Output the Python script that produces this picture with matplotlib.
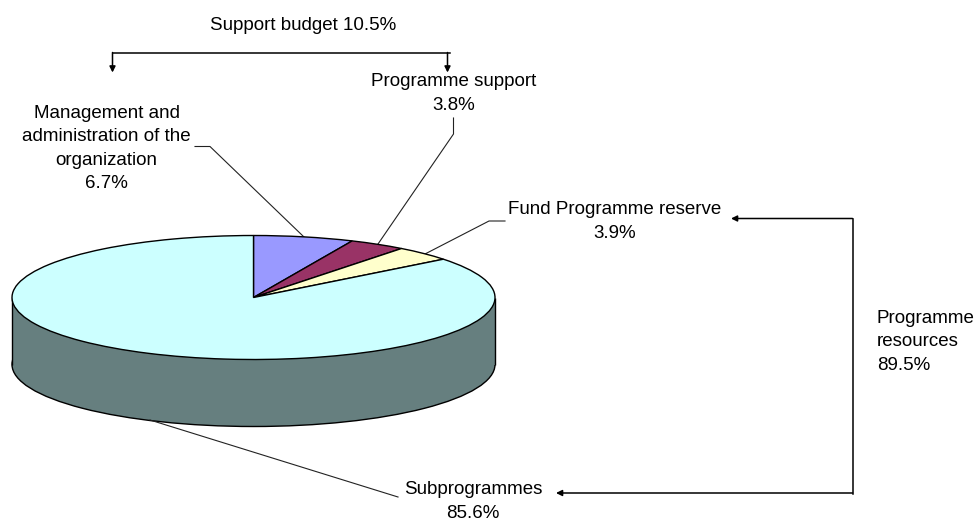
import matplotlib
matplotlib.use("Agg")
import matplotlib.pyplot as plt
from matplotlib.patches import Ellipse, Rectangle

plt.rcParams['font.family'] = ['Liberation Sans', 'DejaVu Sans']

W, H = 978, 521

# slices, clockwise from 12 o'clock
names = ["Management and\nadministration of the\norganization", "Programme support",
         "Fund Programme reserve", "Subprogrammes"]
shares = [6.7, 3.8, 3.9, 85.6]
colores = ["#9999FF", "#993366", "#FFFFCC", "#CCFFFF"]
rim_color = "#667F7F"

support_label = "Support budget 10.5%"
resources_label = "Programme\nresources\n89.5%"

# pie ellipse in pixels
cx, cy = 253.5, 297.5
rx, ry = 241.5, 62
depth = 67

fig = plt.figure(figsize=(W/100, H/100), dpi=100)

# background axes in pixel coordinates, y going down
px = fig.add_axes([0, 0, 1, 1])
px.set_xlim(0, W)
px.set_ylim(H, 0)
px.axis("off")

# side of the cylinder
px.add_patch(Ellipse((cx, cy + depth), 2*rx, 2*ry, fc=rim_color, ec="black", lw=1))
px.add_patch(Rectangle((cx - rx, cy), 2*rx, depth, fc=rim_color, ec="none"))
px.plot([cx - rx, cx - rx], [cy, cy + depth], color="black", lw=1, solid_capstyle="butt")
px.plot([cx + rx, cx + rx], [cy, cy + depth], color="black", lw=1, solid_capstyle="butt")

# top face, the pie squashed into the ellipse
ax = fig.add_axes([(cx - rx)/W, 1 - (cy + ry)/H, 2*rx/W, 2*ry/H])
ax.pie(shares, colors=colores, startangle=90, counterclock=False,
       wedgeprops={"edgecolor": "black", "linewidth": 1})
ax.set_aspect("auto")
ax.set_xlim(-1, 1)
ax.set_ylim(-1, 1)
ax.patch.set_alpha(0)

# leader lines
line = {"color": "#222222", "lw": 0.8}
px.plot([195, 210, 304], [146.5, 146.5, 237], **line)
px.plot([453.5, 453.5, 378], [118, 134, 244], **line)
px.plot([505, 489, 425], [221, 221, 254], **line)
px.plot([150, 398], [420, 497], **line)

# brackets
br = {"color": "black", "lw": 1.1}
arrow = dict(arrowstyle="-|>,head_length=0.5,head_width=0.25", color="black", lw=1.1,
             shrinkA=0, shrinkB=0, mutation_scale=7)
px.plot([112.5, 449.5], [52.5, 52.5], **br)
px.annotate("", xy=(112.5, 72.5), xytext=(112.5, 52.5), arrowprops=arrow)
px.annotate("", xy=(447.5, 72.5), xytext=(447.5, 52.5), arrowprops=arrow)
px.plot([852.5, 852.5], [218.5, 494], **br)
px.annotate("", xy=(731, 218.5), xytext=(852.5, 218.5), arrowprops=arrow)
px.annotate("", xy=(556, 493), xytext=(852.5, 493), arrowprops=arrow)

# labels
fs = 13.5
txt = {"fontsize": fs, "color": "black", "linespacing": 1.48, "va": "center"}
px.text(303, 26, support_label, ha="center", **txt)
px.text(106.5, 148.5, names[0] + "\n%.1f%%" % shares[0], ha="center", **txt)
px.text(454, 93.5, names[1] + "\n%.1f%%" % shares[1], ha="center", **txt)
px.text(615, 221.5, names[2] + "\n%.1f%%" % shares[2], ha="center", **txt)
px.text(473, 501.5, names[3] + "\n%.1f%%" % shares[3], ha="center", **txt)
px.text(877, 342, resources_label, ha="left", **txt)

plt.savefig("out.png", dpi=100)
